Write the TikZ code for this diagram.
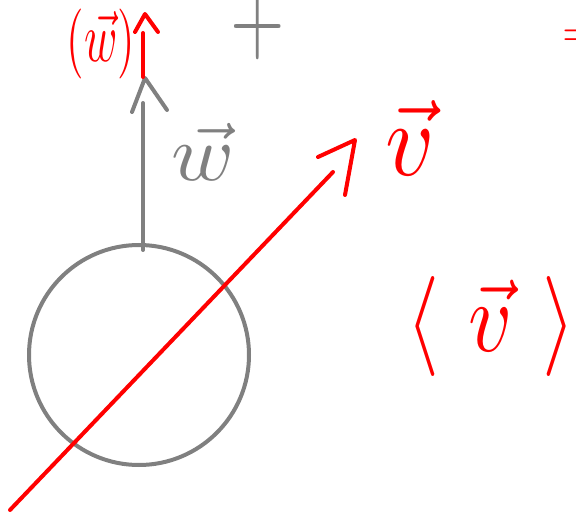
\documentclass[tikz,border=0pt]{standalone}
\usepackage{amsmath, amssymb}
\usepackage{graphicx}
\usepackage{xcolor}
\usepackage{tikz}
\usetikzlibrary{calc, positioning}

\definecolor{lead}{RGB}{128,128,128}
\definecolor{ink}{RGB}{255,0,0}

\begin{document}
\begin{tikzpicture}[x=1pt, y=-1pt, line cap=round, line join=round,
    graypen/.style={draw=lead, line width=4pt},
    redpen/.style={draw=ink, line width=4pt},
    label text/.style={inner sep=0pt}]
    \useasboundingbox (0,0) rectangle (576,513);

    % Vẽ hình tròn
    \node[graypen, circle, minimum size=220pt, inner sep=0pt] (ball) at (139,355) {};

    % Vectơ w (xám) và phần kéo dài (đỏ)
    \coordinate (wbase) at (143,250);
    \coordinate (wend) at (143,103);
    \coordinate (wtip) at (145,78);
    \coordinate (rtip) at (145,14);
    \draw[graypen] (wbase) -- (wend);
    \draw[graypen] (132,112) -- (wtip) -- (167,110);
    \draw[redpen] (143,77) -- (143,33);
    \draw[redpen] (135,32) -- (rtip) -- (158,32);

    % Vectơ v (đỏ)
    \coordinate (vbase) at (10,510);
    \coordinate (vend) at (333,172);
    \coordinate (vtip) at (355,140);
    \draw[redpen] (vbase) -- (vend);
    \draw[redpen] (318,157) -- (vtip) -- (345,195);

    % Các nhãn
    \node[label text, text=ink] (lw) at (101,44) {\scalebox{4.5}[7]{$(\vec{w})$}};
    \node[label text, text=lead] (gw) at (203,152) {\scalebox{8.5}[8]{$\vec{w}$}};
    \node[label text, text=ink] (lv) at (410,138) {\scalebox{9.5}[10.5]{$\vec{v}$}};
    \node[label text, text=ink] (span) at (491,327) {\scalebox{8.5}[10]{$\langle\hspace{3.5pt}\vec{v}\hspace{3.5pt}\rangle$}};
    \node[label text, text=lead] (plus) at (258,27) {\scalebox{7}[10]{$+$}};
    \node[label text, text=ink, anchor=west] (eq) at (562,38) {\scalebox{4.5}{$=$}};

\end{tikzpicture}
\end{document}
